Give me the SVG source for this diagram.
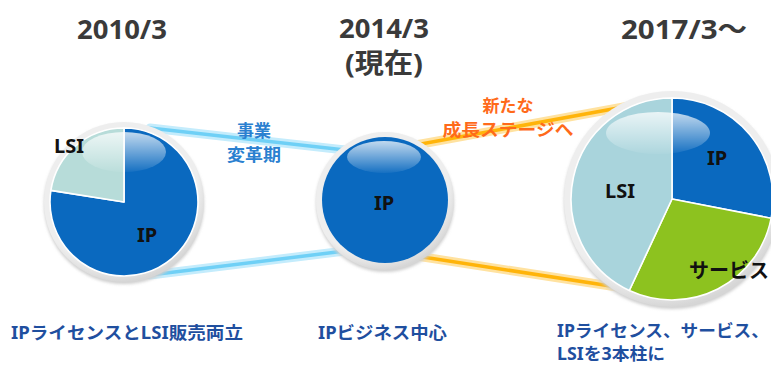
<svg xmlns="http://www.w3.org/2000/svg" width="771" height="365" viewBox="0 0 771 365">
<defs>
<style>
.title{font-family:"Noto Sans","Noto Sans CJK JP",sans-serif;font-weight:bold;font-size:27px;fill:#3a3a3a;text-anchor:middle}
.lbl{font-family:"Noto Sans","Noto Sans CJK JP",sans-serif;font-weight:bold;font-size:20px;fill:#111;text-anchor:middle}
.blue{font-family:"Noto Sans CJK JP",sans-serif;font-weight:bold;font-size:17px;fill:#2a80d0;text-anchor:middle}
.orange{font-family:"Noto Sans CJK JP",sans-serif;font-weight:bold;font-size:17px;fill:#ff6a1a;text-anchor:middle}
.cap{font-family:"Noto Sans","Noto Sans CJK JP",sans-serif;font-weight:bold;font-size:17px;fill:#1f4f9f}
.ring{fill:url(#ringg)}
.sep{stroke:#fff;stroke-width:1.6;stroke-linejoin:round}
.ip{fill:#0a69bf}
.lsi{fill:#a9d4dc}
.lsil{fill:#b7dcd9}
.svc{fill:#8dc21f}
.gloss{fill:url(#gl)}
.bglow{stroke:#c4ecfc;stroke-width:9;stroke-linecap:round;fill:none}
.bcore{stroke:#6fd0f6;stroke-width:3.5;stroke-linecap:round;fill:none}
.oglow{stroke:#ffe2a0;stroke-width:9;stroke-linecap:round;fill:none}
.ocore{stroke:#ffb40a;stroke-width:3.5;stroke-linecap:round;fill:none}
</style>
<radialGradient id="ringg" cx="0.45" cy="0.4" r="0.6">
<stop offset="0.85" stop-color="#eeeeee"/>
<stop offset="1" stop-color="#d6d6d6"/>
</radialGradient>
<linearGradient id="gl" x1="0" y1="0" x2="0" y2="1">
<stop offset="0" stop-color="#ffffff" stop-opacity="0.75"/>
<stop offset="1" stop-color="#ffffff" stop-opacity="0.05"/>
</linearGradient>
<filter id="sh" x="-20%" y="-20%" width="140%" height="140%">
<feGaussianBlur stdDeviation="1.5"/>
</filter>
</defs>
<rect width="771" height="365" fill="#ffffff"/>

<g id="connectors">
<line class="bglow" x1="150" y1="128" x2="345" y2="150"/>
<line class="bcore" x1="150" y1="128" x2="345" y2="150"/>
<line class="bglow" x1="150" y1="275" x2="345" y2="251"/>
<line class="bcore" x1="150" y1="275" x2="345" y2="251"/>
<line class="oglow" x1="410" y1="146" x2="640" y2="104"/>
<line class="ocore" x1="410" y1="146" x2="640" y2="104"/>
<line class="oglow" x1="410" y1="255" x2="630" y2="289"/>
<line class="ocore" x1="410" y1="255" x2="630" y2="289"/>
<text class="blue" x="254" y="137">事業</text>
<text class="blue" x="254" y="161" textLength="54" lengthAdjust="spacingAndGlyphs">変革期</text>
<text class="orange" x="508" y="112">新たな</text>
<text class="orange" x="508" y="136" textLength="131" lengthAdjust="spacingAndGlyphs">成長ステージへ</text>
</g>

<g id="titles">
<text class="title" x="122" y="39" textLength="90" lengthAdjust="spacingAndGlyphs">2010/3</text>
<text class="title" x="384" y="38" textLength="90" lengthAdjust="spacingAndGlyphs">2014/3</text>
<text class="title" x="384" y="73" font-size="24" textLength="78" lengthAdjust="spacingAndGlyphs">(現在)</text>
<text class="title" x="684" y="39" textLength="126" lengthAdjust="spacingAndGlyphs">2017/3～</text>
</g>

<g id="pie2010">
<circle cx="124" cy="204" r="80" fill="#cfcfcf" filter="url(#sh)"/>
<circle class="ring" cx="124" cy="202" r="80"/>
<path class="ip sep" d="M124,202 L124,128 A74,74 0 1,1 50.9,190.4 Z"/>
<path class="lsil sep" d="M124,202 L50.9,190.4 A74,74 0 0,1 124,128 Z"/>
<ellipse class="gloss" cx="124" cy="152" rx="42" ry="20"/>
<text class="lbl" x="69" y="153">LSI</text>
<text class="lbl" x="147" y="242">IP</text>
</g>

<g id="pie2014">
<circle cx="385" cy="203" r="69" fill="#cfcfcf" filter="url(#sh)"/>
<circle class="ring" cx="385" cy="201" r="69"/>
<circle class="ip" cx="385" cy="200" r="63"/>
<ellipse class="gloss" cx="384" cy="157" rx="37" ry="16"/>
<text class="lbl" x="384" y="210">IP</text>
</g>

<g id="pie2017">
<circle cx="672" cy="201" r="108" fill="#cfcfcf" filter="url(#sh)"/>
<circle class="ring" cx="672" cy="199" r="108"/>
<path class="ip sep" d="M672,199 L672,98 A101,101 0 0,1 771.1,218.3 Z"/>
<path class="svc sep" d="M672,199 L771.1,218.3 A101,101 0 0,1 629.3,290.5 Z"/>
<path class="lsi sep" d="M672,199 L629.3,290.5 A101,101 0 0,1 672,98 Z"/>
<ellipse class="gloss" cx="658" cy="133" rx="52" ry="21"/>
<text class="lbl" x="620" y="198">LSI</text>
<text class="lbl" x="717" y="165">IP</text>
<text class="lbl" x="729" y="278" font-size="19">サービス</text>
</g>

<g id="captions">
<text class="cap" x="11" y="339" textLength="232" lengthAdjust="spacingAndGlyphs">IPライセンスとLSI販売両立</text>
<text class="cap" x="318" y="339" textLength="129" lengthAdjust="spacingAndGlyphs">IPビジネス中心</text>
<text class="cap" x="557" y="337" textLength="212" lengthAdjust="spacingAndGlyphs">IPライセンス、サービス、</text>
<text class="cap" x="557" y="360" font-size="16" textLength="108" lengthAdjust="spacingAndGlyphs">LSIを3本柱に</text>
</g>
</svg>
